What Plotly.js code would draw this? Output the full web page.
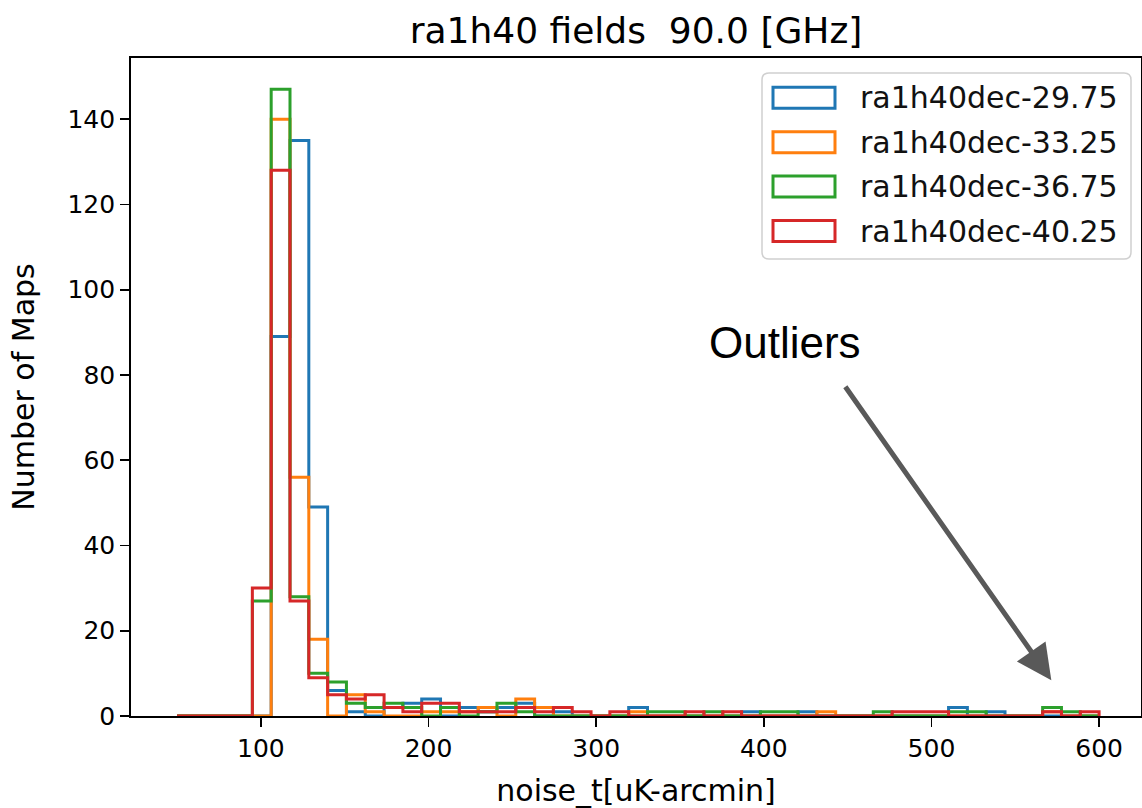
<!DOCTYPE html>
<html>
<head>
<meta charset="utf-8">
<script src="https://cdn.plot.ly/plotly-3.0.1.min.js"></script>
<style>html,body{margin:0;padding:0;background:#fff;}#chart{width:1142px;height:808px;}</style>
</head>
<body>
<div id="chart"></div>
<script>
// Histogram bins: 49 equal bins from 50 to 600 uK-arcmin
const binStart = 50;
const binEnd = 600;
const nBins = 49;

const seriesNames = ["ra1h40dec-29.75", "ra1h40dec-33.25", "ra1h40dec-36.75", "ra1h40dec-40.25"];
const seriesColors = ["#1f77b4", "#ff7f0e", "#2ca02c", "#d62728"];

// counts per bin (49 bins)
const countsDec2975 = [0,0,0,0,0,89,135,49,6,1, 0,2,3,4,0,2,1,2,3,0, 1,0,0,0,2,0,0,0,0,0, 1,0,0,1,0,0,0,0,0,0, 0,2,0,1,0,0,0,0,0];
const countsDec3325 = [0,0,0,0,0,140,56,18,0,5, 1,0,0,1,1,1,2,0,4,2, 0,0,0,0,1,0,0,0,0,0, 0,0,0,0,1,0,0,0,0,0, 0,0,0,0,0,0,1,0,0];
const countsDec3675 = [0,0,0,0,27,147,28,10,8,3, 2,3,2,0,2,0,1,3,1,0, 0,0,0,0,0,1,1,0,1,0, 0,1,1,0,0,0,0,1,0,0, 0,1,1,0,0,0,2,1,0];
const countsDec4025 = [0,0,0,0,30,128,27,9,5,4, 5,2,1,3,3,1,1,1,2,1, 2,1,0,1,0,0,0,1,0,1, 0,0,0,0,0,0,0,0,1,1, 1,0,0,0,0,0,1,0,1];

const xTicks = [100, 200, 300, 400, 500, 600];
const yTicks = [0, 20, 40, 60, 80, 100, 120, 140];

const allCounts = [countsDec2975, countsDec3325, countsDec3675, countsDec4025];
const binWidth = (binEnd - binStart) / nBins;
const edges = [];
for (let i = 0; i <= nBins; i++) edges.push(binStart + i * binWidth);

// step outline (matplotlib histtype='step') using Plotly 'hv' line shape
const traces = allCounts.map((c, k) => {
  const xs = [edges[0]];
  const ys = [0];
  for (let i = 0; i < c.length; i++) { xs.push(edges[i]); ys.push(c[i]); }
  xs.push(edges[nBins]); ys.push(0);
  return {
    type: 'scatter', mode: 'lines', x: xs, y: ys, name: seriesNames[k],
    line: {shape: 'hv', color: seriesColors[k], width: 3},
    showlegend: false, hoverinfo: 'skip'
  };
});

// plot area geometry (pixels) for the hand-drawn legend
const W = 1142, H = 808, mL = 131, mR = 1, mT = 58, mB = 92;
const pw = W - mL - mR, ph = H - mT - mB;
const px = v => (v - mL) / pw;
const py = v => (H - mB - v) / ph;

const shapes = [];
const annotations = [];

// legend frame (rounded)
const lx0 = 762, lx1 = 1131, ly0 = 73, ly1 = 259, r = 7;
const rx = r / pw, ry = r / ph;
const X0 = px(lx0), X1 = px(lx1), Y0 = py(ly0), Y1 = py(ly1);
shapes.push({
  type: 'path', xref: 'paper', yref: 'paper',
  path: `M ${X0+rx},${Y0} L ${X1-rx},${Y0} Q ${X1},${Y0} ${X1},${Y0-ry} L ${X1},${Y1+ry} Q ${X1},${Y1} ${X1-rx},${Y1} L ${X0+rx},${Y1} Q ${X0},${Y1} ${X0},${Y1+ry} L ${X0},${Y0-ry} Q ${X0},${Y0} ${X0+rx},${Y0} Z`,
  line: {color: '#d0d0d0', width: 1.5}, fillcolor: 'rgba(255,255,255,0.85)', layer: 'above'
});
seriesNames.forEach((name, k) => {
  const cy = 97.8 + k * 44.4;
  shapes.push({
    type: 'rect', xref: 'paper', yref: 'paper',
    x0: px(773), x1: px(835), y0: py(cy - 10.5), y1: py(cy + 10.5),
    line: {color: seriesColors[k], width: 3}, fillcolor: 'rgba(0,0,0,0)', layer: 'above'
  });
  annotations.push({
    xref: 'paper', yref: 'paper', x: px(858), y: py(cy), xanchor: 'left', yanchor: 'middle',
    text: name, showarrow: false, font: {family: 'DejaVu Sans', size: 30, color: '#111'}
  });
});

// "Outliers" callout
annotations.push({
  x: 412.9, y: 87.7, xref: 'x', yref: 'y', text: 'Outliers', showarrow: false,
  font: {family: 'Liberation Sans, Arial', size: 44, color: '#000'}, xanchor: 'center', yanchor: 'middle'
});
annotations.push({
  x: 571.5, y: 8.4, xref: 'x', yref: 'y', ax: 448, ay: 77.6, axref: 'x', ayref: 'y',
  text: '', showarrow: true, arrowhead: 2, arrowsize: 1.4, arrowwidth: 5, arrowcolor: '#595959', standoff: 0
});

const layout = {
  width: W, height: H,
  margin: {l: mL, r: mR, t: mT, b: mB},
  paper_bgcolor: '#fff', plot_bgcolor: '#fff',
  showlegend: false,
  font: {family: 'DejaVu Sans', color: '#000'},
  title: {text: 'ra1h40 fields  90.0 [GHz]', font: {family: 'DejaVu Sans', size: 36, color: '#000'},
          x: 0.5, xref: 'paper', y: 1 - 30 / H, yref: 'container', yanchor: 'middle'},
  xaxis: {
    range: [22.5, 625], tickvals: xTicks, ticktext: xTicks.map(String),
    showgrid: false, zeroline: false, showline: true, mirror: true, linecolor: '#000', linewidth: 1.8,
    ticks: 'outside', ticklen: 9, tickwidth: 1.8, tickcolor: '#000',
    tickfont: {family: 'DejaVu Sans', size: 25, color: '#000'},
    title: {text: 'noise_t[uK-arcmin]', font: {family: 'DejaVu Sans', size: 30, color: '#000'}, standoff: 22},
    automargin: false
  },
  yaxis: {
    range: [0, 154.35], tickvals: yTicks, ticktext: yTicks.map(String),
    showgrid: false, zeroline: false, showline: true, mirror: true, linecolor: '#000', linewidth: 1.8,
    ticks: 'outside', ticklen: 9, tickwidth: 1.8, tickcolor: '#000',
    tickfont: {family: 'DejaVu Sans', size: 25, color: '#000'},
    title: {text: 'Number of Maps', font: {family: 'DejaVu Sans', size: 30, color: '#000'}, standoff: 24},
    automargin: false
  },
  shapes: shapes,
  annotations: annotations
};

Plotly.newPlot('chart', traces, layout, {staticPlot: true, displayModeBar: false});
</script>
</body>
</html>
